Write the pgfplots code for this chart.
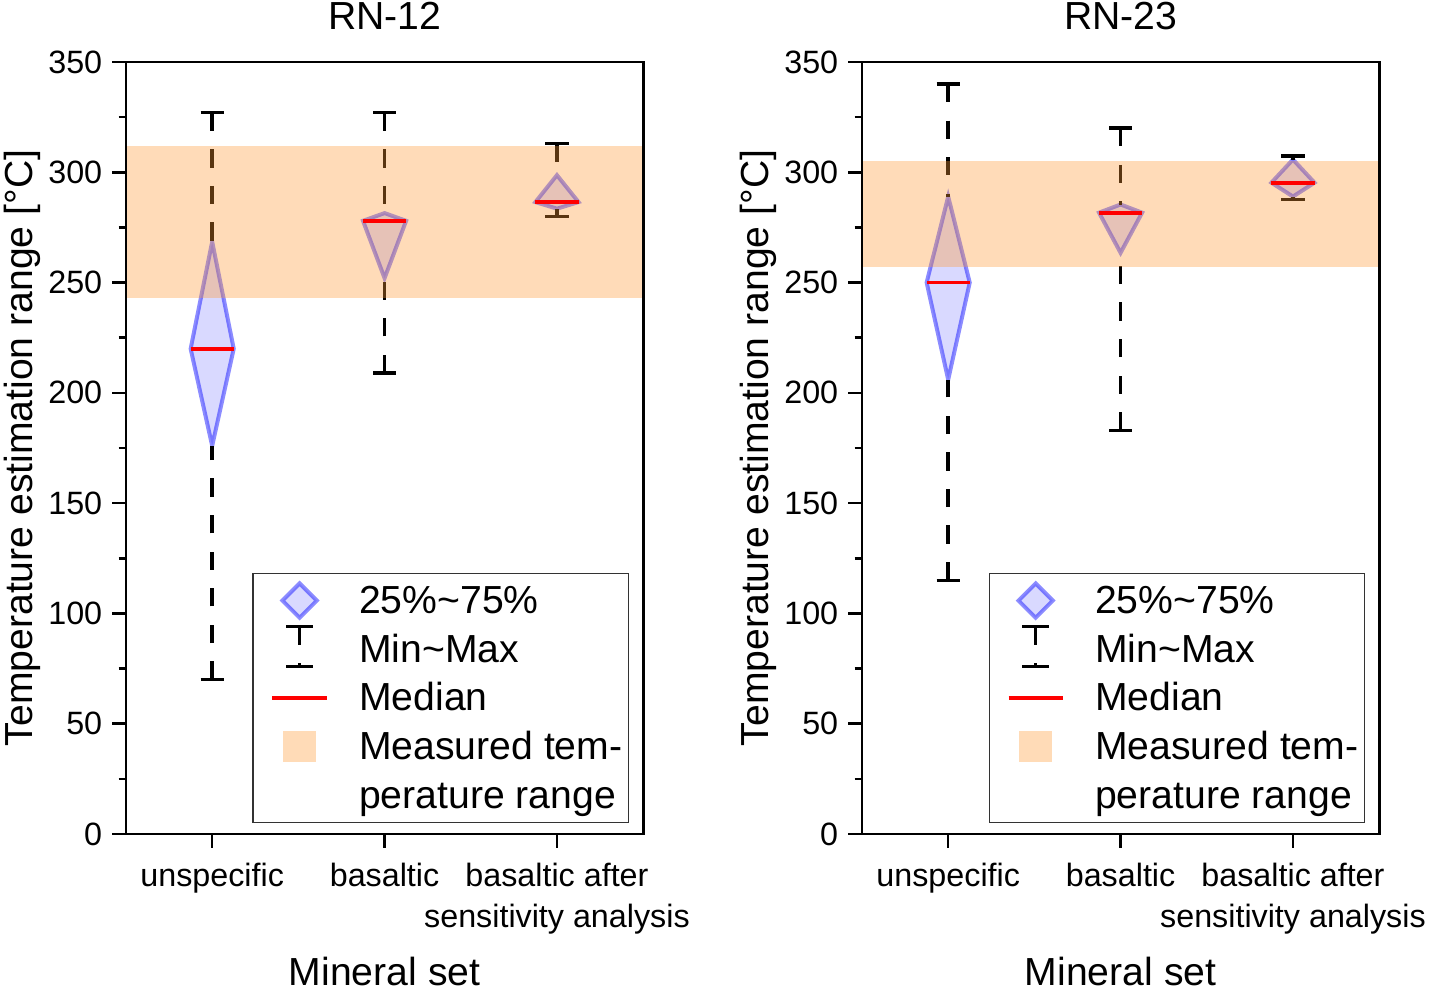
\documentclass[border=0pt]{standalone}
\usepackage{pgfplots}
\pgfplotsset{compat=1.18}
\usepackage{fontspec}
\setmainfont{Liberation Sans}
\definecolor{bandcol}{rgb}{1,0.6,0.2}
\begin{document}
\begin{tikzpicture}
\pgfplotsset{
  myax/.style={
    scale only axis, width=181pt, height=270.2pt,
    xmin=0.5, xmax=3.5, ymin=0, ymax=350,
    xtick={1,2,3},
    xticklabels={unspecific, basaltic, {basaltic after\\sensitivity analysis}},
    ytick={0,50,...,350}, minor ytick={25,75,...,325},
    tick align=outside, major tick length=4.8pt, minor tick length=2.6pt,
    xtick pos=bottom, ytick pos=left,
    axis line style={line width=1pt},
    every tick/.style={black, line width=0.9pt},
    /pgf/number format/assume math mode=true,
    yticklabel style={font=\fontsize{11.3}{13}\selectfont},
    xticklabel style={font=\fontsize{11.3}{14.35}\selectfont, align=center, anchor=north, yshift=-2pt},
    every axis title shift=0pt,
    title style={font=\fontsize{13.7}{16}\selectfont, at={(axis description cs:0.5,1)}, anchor=base, yshift=11.55pt},
    xlabel={Mineral set},
    xlabel style={font=\fontsize{13.7}{16}\selectfont, at={(axis description cs:0.5,0)}, anchor=base, yshift=-52.85pt},
    ylabel={Temperature estimation range [°C]},
    ylabel style={font=\fontsize{13.7}{16}\selectfont, at={(axis description cs:-0.1802,0.5)}, anchor=base},
    axis on top,
    legend style={at={(axis description cs:1,0)}, anchor=south east, xshift=-4.9pt, yshift=3.85pt,
      draw=black!80, line width=0.5pt, font=\fontsize{13.7}{16.5}\selectfont,
      inner xsep=0.1pt, inner ysep=1pt,
      nodes={inner sep=2pt, text height=11pt, text depth=2pt},
      cells={anchor=west}, row sep=0pt},
    legend cell align=left,
  }
}
\newcommand{\mylegend}{%
  \addlegendimage{legend image code/.code={
    \path (-2.9pt,0pt) (31.6pt,0pt);
    \draw[draw=blue, draw opacity=0.45, fill=blue, fill opacity=0.15, line width=1.4pt] (13pt,-6pt) -- (7pt,0pt) -- (13pt,6pt) -- (19pt,0pt) -- cycle;}}
  \addlegendentry{25\%\char`\~75\%}
  \addlegendimage{legend image code/.code={
    \path (-2.9pt,0pt) (31.6pt,0pt);
    \draw[black, line width=1.2pt] (8.3pt,8pt) -- (17.7pt,8pt) (13pt,8pt) -- (13pt,1.6pt) (8.3pt,-6pt) -- (17.7pt,-6pt) (13pt,-6pt) -- (13pt,-4.6pt);}}
  \addlegendentry{Min\char`\~Max}
  \addlegendimage{legend image code/.code={
    \path (-2.9pt,0pt) (31.6pt,0pt);
    \draw[red, line width=1.2pt] (3.5pt,0pt) -- (22.5pt,0pt);}}
  \addlegendentry{Median}
  \addlegendimage{legend image code/.code={
    \path (-2.9pt,0pt) (31.6pt,0pt);
    \path[draw=none, fill=bandcol, fill opacity=0.35] (7.2pt,-5.4pt) rectangle (18.8pt,5.4pt);}}
  \addlegendentry{Measured tem-}
  \addlegendimage{legend image code/.code={\path (-2.9pt,0pt) (31.6pt,0pt);}}
  \addlegendentry{perature range}
}
\tikzset{
  dia/.style={draw=blue, draw opacity=0.45, fill=blue, fill opacity=0.15, line width=1.4pt},
  whisk/.style={black, line width=1.3pt, dash pattern=on 6.4pt off 6.4pt},
  capl/.style={black, line width=1.2pt},
  med/.style={red, line width=1.3pt},
  band/.style={draw=none, fill=bandcol, fill opacity=0.35},
}
% ---------- RN-12 ----------
\begin{axis}[myax, title={RN-12}]
\mylegend
% unspecific: min 70, q1 176, med 220, q3 268.5, max 327
\addplot[forget plot, dia] coordinates {(1,176) (0.875,220) (1,268.5) (1.125,220)} -- cycle;
\addplot[forget plot, whisk] coordinates {(1,327) (1,268.5)};
\addplot[forget plot, whisk] coordinates {(1,70) (1,176)};
\addplot[forget plot, capl] coordinates {(0.933,327) (1.067,327)};
\addplot[forget plot, capl] coordinates {(0.933,70) (1.067,70)};
% basaltic: min 209, q1 252, med 278, q3 281.5, max 327
\addplot[forget plot, dia] coordinates {(2,252) (1.875,278) (2,281.5) (2.125,278)} -- cycle;
\addplot[forget plot, whisk] coordinates {(2,327) (2,281.5)};
\addplot[forget plot, whisk] coordinates {(2,209) (2,252)};
\addplot[forget plot, capl] coordinates {(1.933,327) (2.067,327)};
\addplot[forget plot, capl] coordinates {(1.933,209) (2.067,209)};
% basaltic after SA: min 280, q1 283.5, med 286.5, q3 298.7, max 313
\addplot[forget plot, dia] coordinates {(3,283.5) (2.875,286.5) (3,298.7) (3.125,286.5)} -- cycle;
\addplot[forget plot, whisk] coordinates {(3,313) (3,298.7)};
\addplot[forget plot, whisk] coordinates {(3,280) (3,283.5)};
\addplot[forget plot, capl] coordinates {(2.933,313) (3.067,313)};
\addplot[forget plot, capl] coordinates {(2.933,280) (3.067,280)};
% measured range
\addplot[forget plot, band] coordinates {(0.5,243) (3.5,243) (3.5,312) (0.5,312)} -- cycle;
% medians
\addplot[forget plot, med] coordinates {(0.875,220) (1.125,220)};
\addplot[forget plot, med] coordinates {(1.875,278) (2.125,278)};
\addplot[forget plot, med] coordinates {(2.875,286.5) (3.125,286.5)};
\end{axis}
% ---------- RN-23 ----------
\begin{axis}[myax, title={RN-23}, xshift=257.6pt]
\mylegend
% unspecific: min 115, q1 206, med 250, q3 289, max 340
\addplot[forget plot, dia] coordinates {(1,206) (0.875,250) (1,289) (1.125,250)} -- cycle;
\addplot[forget plot, whisk] coordinates {(1,340) (1,289)};
\addplot[forget plot, whisk] coordinates {(1,115) (1,206)};
\addplot[forget plot, capl] coordinates {(0.933,340) (1.067,340)};
\addplot[forget plot, capl] coordinates {(0.933,115) (1.067,115)};
% basaltic: min 183, q1 263.5, med 281.7, q3 285.4, max 320
\addplot[forget plot, dia] coordinates {(2,263.5) (1.875,281.7) (2,285.4) (2.125,281.7)} -- cycle;
\addplot[forget plot, whisk] coordinates {(2,320) (2,285.4)};
\addplot[forget plot, whisk] coordinates {(2,183) (2,263.5)};
\addplot[forget plot, capl] coordinates {(1.933,320) (2.067,320)};
\addplot[forget plot, capl] coordinates {(1.933,183) (2.067,183)};
% basaltic after SA: min 287.7, q1 289, med 295.3, q3 305.8, max 307.3
\addplot[forget plot, dia] coordinates {(3,289) (2.875,295.3) (3,305.8) (3.125,295.3)} -- cycle;
\addplot[forget plot, whisk] coordinates {(3,307.3) (3,305.8)};
\addplot[forget plot, whisk] coordinates {(3,287.7) (3,289)};
\addplot[forget plot, capl] coordinates {(2.933,307.3) (3.067,307.3)};
\addplot[forget plot, capl] coordinates {(2.933,287.7) (3.067,287.7)};
% measured range
\addplot[forget plot, band] coordinates {(0.5,257) (3.5,257) (3.5,305) (0.5,305)} -- cycle;
% medians
\addplot[forget plot, med] coordinates {(0.875,250) (1.125,250)};
\addplot[forget plot, med] coordinates {(1.875,281.7) (2.125,281.7)};
\addplot[forget plot, med] coordinates {(2.875,295.3) (3.125,295.3)};
\end{axis}
\pgfresetboundingbox
\useasboundingbox (-44.1pt,-54.25pt) rectangle (456.05pt,291.9pt);
\end{tikzpicture}
\end{document}
